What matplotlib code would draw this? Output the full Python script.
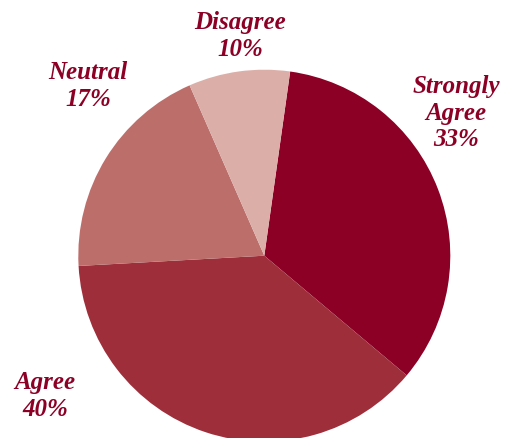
import matplotlib.pyplot as plt

labels = ['Strongly\nAgree', 'Agree', 'Neutral', 'Disagree']
# slice shares as drawn in the picture (the printed labels are rounded differently)
shares = [33.9, 38.0, 19.3, 8.8]
pct_text = ['33%', '40%', '17%', '10%']
colors = ['#8c0026', '#9e2e3a', '#bc6e6a', '#dbaea8']
# label centres in figure pixels (x, y from top)
label_pos = [(456, 113), (45, 396), (88, 86), (240, 36)]

W, H = 510, 438
cx, cy, r = 264.3, 255.7, 186
fig = plt.figure(figsize=(W / 100, H / 100), dpi=100)
ax = fig.add_axes([(cx - r) / W, (H - cy - r) / H, 2 * r / W, 2 * r / H])

ax.pie(shares, colors=colors, startangle=82, counterclock=False,
       wedgeprops=dict(linewidth=0))
ax.set_xlim(-1, 1)
ax.set_ylim(-1, 1)
ax.set_aspect('equal')
ax.axis('off')

for lab, pct, (px, py) in zip(labels, pct_text, label_pos):
    fig.text(px / W, 1 - py / H, f'{lab}\n{pct}', ha='center', va='center',
             color='#8c0026', fontsize=18, fontfamily='Liberation Serif',
             fontweight='bold', fontstyle='italic', linespacing=1.2)

fig.savefig('out.png', dpi=100)
